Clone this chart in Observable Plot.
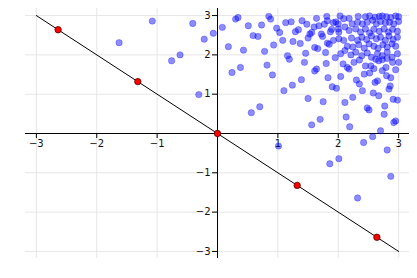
<!DOCTYPE html>
<html>
<head>
<meta charset="utf-8">
<script src="https://cdn.jsdelivr.net/npm/d3@7"></script>
<script src="https://cdn.jsdelivr.net/npm/@observablehq/plot@0.6"></script>
<style>
  html, body { margin: 0; padding: 0; background: #fff; }
  #chart svg { display: block; }
</style>
</head>
<body>
<div id="chart"></div>
<script>
// Scatter (blue) points
const blueX = [
  -1.08,-0.41,-1.63,-0.76,-0.62,-0.22,-0.31,-0.07,0.08,0.30,0.34,0.51,0.59,0.67,0.73,0.85,0.88,0.98,1.03,0.18,0.43,0.78,0.93,0.24,0.38,0.82,0.91,0.56,0.70,
  1.10,1.24,1.39,1.50,1.56,1.70,1.75,1.83,1.64,1.61,1.80,1.44,1.46,1.16,1.19,1.08,1.25,1.37,1.13,1.22,1.29,1.34,1.40,1.48,1.53,1.56,1.50,1.61,1.66,1.60,1.64,1.68,1.72,1.74,1.77,1.81,1.82,1.79,1.85,1.89,1.87,1.92,1.95,1.92,1.96,1.90,1.97,1.82,
  2.03,2.00,2.09,2.00,2.01,2.11,2.01,2.09,2.11,2.04,
  2.18,2.33,2.45,2.52,2.61,2.68,2.73,2.80,2.87,2.95,3.00,
  2.23,2.32,2.40,2.48,2.57,2.63,2.70,2.78,2.85,2.92,3.00,
  2.18,2.29,2.37,2.45,2.52,2.59,2.68,2.76,2.83,2.90,2.98,
  2.22,2.32,2.39,2.47,2.55,2.63,2.70,2.78,2.84,2.91,2.98,
  2.15,2.24,2.34,2.43,2.51,2.59,2.66,2.74,2.81,2.89,2.95,
  2.21,2.29,2.39,2.48,2.55,2.65,2.73,2.81,2.89,2.98,
  2.08,2.04,2.11,2.13,2.19,2.18,2.30,2.35,2.40,2.24,2.48,2.51,2.58,2.67,2.77,2.76,2.91,2.98,2.95,2.92,2.70,2.45,2.54,2.43,2.52,2.59,2.61,2.65,2.73,2.79,2.80,2.87,2.84,2.86,2.95,2.90,3.00,2.81,2.73,2.62,2.67,2.26,2.35,2.15,
  1.01,1.86,2.01,2.42,2.57,2.81,2.87,2.32
];
const blueY = [
  2.86,2.80,2.31,1.85,2.00,2.40,0.99,2.55,2.70,2.91,2.95,2.74,2.49,2.47,2.76,2.98,2.91,2.68,2.57,2.21,2.12,2.09,2.25,1.55,1.68,1.74,1.49,0.53,0.68,
  1.09,1.23,1.37,0.89,0.22,0.36,0.81,1.42,1.64,1.59,1.78,1.81,2.04,1.98,1.89,2.37,2.34,2.29,2.82,2.84,2.59,2.64,2.87,2.78,2.53,2.57,2.43,2.19,2.16,2.71,2.93,2.74,2.53,2.47,2.78,2.98,2.87,2.06,2.27,2.65,2.59,2.37,1.93,2.82,2.84,1.19,1.15,2.30,
  2.99,2.79,2.92,2.66,2.58,2.71,2.41,2.37,2.11,2.03,
  2.93,2.98,2.97,2.99,2.96,2.98,2.99,2.97,2.95,2.99,2.97,
  2.79,2.83,2.79,2.83,2.88,2.79,2.85,2.82,2.83,2.79,2.85,
  2.62,2.66,2.58,2.66,2.56,2.65,2.60,2.66,2.58,2.65,2.60,
  2.43,2.37,2.45,2.39,2.48,2.41,2.45,2.37,2.48,2.39,2.45,
  2.22,2.20,2.26,2.17,2.28,2.22,2.17,2.26,2.20,2.28,2.22,
  2.00,2.07,1.98,2.05,1.94,2.03,1.98,2.07,1.94,2.03,
  1.77,1.45,0.79,0.42,0.17,1.64,1.36,1.26,1.09,0.92,0.65,0.60,1.03,0.96,0.70,0.49,0.87,0.85,0.32,0.28,0.07,1.72,1.72,1.51,1.54,1.65,1.30,1.34,1.60,1.68,1.47,1.42,1.13,1.21,1.62,1.81,1.81,1.91,1.88,1.89,1.85,1.81,1.87,1.68,
  -0.32,-0.77,-0.64,-0.23,-0.08,-0.42,-1.09,-1.64
];

// Diagonal line
const lineX = [-3, 3];
const lineY = [3, -3];

// Red points on the line
const redX = [-2.64, -1.32, 0, 1.32, 2.64];
const redY = [2.64, 1.32, 0, -1.32, -2.64];

// Ticks
const xTicks = [-3, -2, -1, 1, 2, 3];
const xTickLabels = ["\u22123", "\u22122", "\u22121", "1", "2", "3"];
const yTicks = [-3, -2, -1, 1, 2, 3];
const yTickLabels = ["\u22123", "\u22122", "\u22121", "1", "2", "3"];

const blue = blueX.map((x, i) => ({x, y: blueY[i]}));
const line = lineX.map((x, i) => ({x, y: lineY[i]}));
const red = redX.map((x, i) => ({x, y: redY[i]}));
const xt = xTicks.map((v, i) => ({v, label: xTickLabels[i]}));
const yt = yTicks.map((v, i) => ({v, label: yTickLabels[i]}));

const chart = Plot.plot({
  width: 417,
  height: 278,
  marginLeft: 25,
  marginRight: 8,
  marginTop: 8,
  marginBottom: 20,
  style: {background: "#fff", fontFamily: "DejaVu Sans, sans-serif"},
  x: {domain: [-3.18, 3.18], axis: null},
  y: {domain: [-3.18, 3.18], axis: null},
  marks: [
    Plot.gridX({ticks: xTicks, stroke: "#e6e6e6", strokeOpacity: 1, strokeWidth: 1}),
    Plot.gridY({ticks: yTicks, stroke: "#e6e6e6", strokeOpacity: 1, strokeWidth: 1}),
    Plot.ruleY([0], {stroke: "#000", strokeWidth: 1}),
    Plot.ruleX([0], {stroke: "#000", strokeWidth: 1}),
    Plot.ruleX(xt, {x: "v", y1: 0, y2: 0, insetTop: 0, insetBottom: -5, stroke: "#000", strokeWidth: 1}),
    Plot.ruleY(yt, {y: "v", x1: 0, x2: 0, insetLeft: -5, insetRight: 0, stroke: "#000", strokeWidth: 1}),
    Plot.text(xt, {x: "v", y: 0, text: "label", dy: 10, fontSize: 10, fill: "#111", textAnchor: "middle"}),
    Plot.text(yt, {x: 0, y: "v", text: "label", dx: -7, fontSize: 10, fill: "#111", textAnchor: "end"}),
    Plot.dot(blue, {x: "x", y: "y", r: 3.2, fill: "#0000ff", fillOpacity: 0.45, stroke: "#0000ff", strokeOpacity: 0.35, strokeWidth: 0.8}),
    Plot.line(line, {x: "x", y: "y", stroke: "#000", strokeWidth: 1}),
    Plot.dot(red, {x: "x", y: "y", r: 3.2, fill: "#ff0000", stroke: "#550000", strokeWidth: 0.8})
  ]
});
document.getElementById("chart").appendChild(chart);
</script>
</body>
</html>
